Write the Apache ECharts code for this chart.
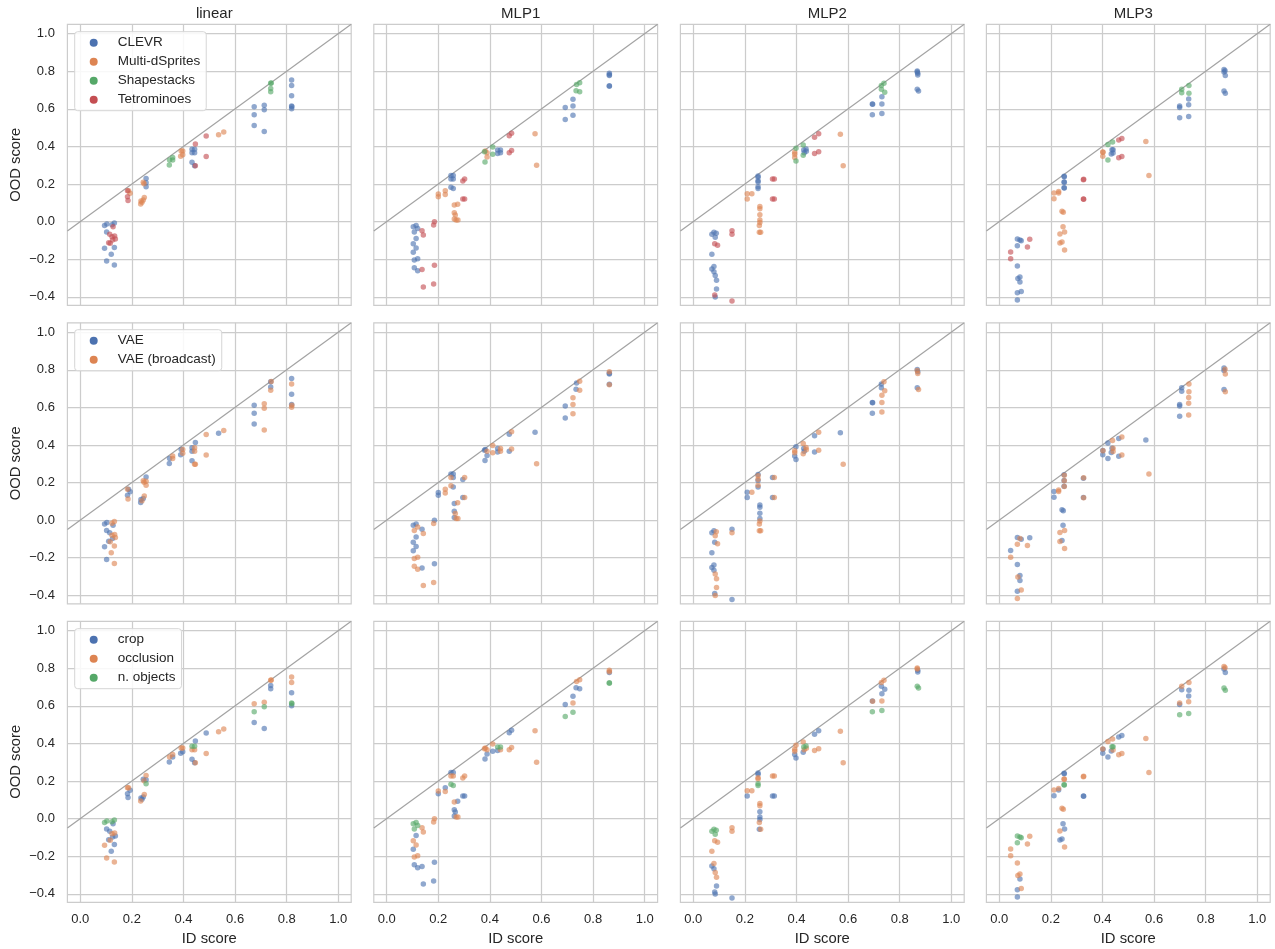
<!DOCTYPE html>
<html><head><meta charset="utf-8">
<script src="https://cdn.jsdelivr.net/npm/echarts@6/dist/echarts.min.js"></script>
<style>html,body{margin:0;padding:0;background:#fff}#chart{width:1275px;height:949px}</style>
</head><body><div id="chart"></div>
<script>
const columnTitles = ['linear', 'MLP1', 'MLP2', 'MLP3'];
const datasets = ['CLEVR', 'Multi-dSprites', 'Shapestacks', 'Tetrominoes'];
const models = ['VAE', 'VAE (broadcast)'];
const shifts = ['crop', 'occlusion', 'n. objects'];
const xTicks = [0, 0.2, 0.4, 0.6, 0.8, 1.0];
const yTicks = [-0.4, -0.2, 0, 0.2, 0.4, 0.6, 0.8, 1.0];
const diagonal = [-0.05, 1.05];

// [ID score, OOD score, dataset index, model index, shift index]
const linearPts = [
[0.094,-0.020,0,0,2],[0.103,-0.012,0,0,2],[0.123,-0.016,0,1,2],[0.132,-0.007,0,1,2],
[0.102,-0.055,0,0,0],[0.094,-0.142,0,0,1],[0.132,-0.138,0,1,0],[0.120,-0.174,0,1,0],
[0.102,-0.209,0,0,1],[0.132,-0.230,0,1,1],
[0.127,-0.027,3,0,0],[0.114,-0.067,3,0,0],[0.123,-0.080,3,1,1],[0.133,-0.076,3,1,1],
[0.136,-0.092,3,1,0],[0.125,-0.098,3,0,0],[0.116,-0.115,3,1,1],[0.110,-0.112,3,0,0],
[0.183,0.165,3,1,1],[0.187,0.165,1,0,1],[0.193,0.151,1,0,0],[0.183,0.133,3,0,0],[0.185,0.112,3,1,0],
[0.255,0.230,0,0,1],[0.255,0.207,0,1,0],[0.255,0.186,0,1,2],
[0.244,0.209,1,1,0],[0.247,0.202,1,1,1],[0.248,0.129,1,1,1],[0.244,0.115,1,0,0],[0.239,0.103,1,1,0],[0.234,0.094,1,0,1],[0.235,0.110,1,0,0],
[0.346,0.328,2,0,1],[0.358,0.342,2,1,1],[0.358,0.328,2,1,0],[0.345,0.301,2,0,0],
[0.391,0.376,1,0,1],[0.397,0.376,1,1,1],[0.389,0.348,1,0,0],[0.397,0.356,1,1,0],
[0.433,0.385,0,0,2],[0.443,0.385,0,1,2],[0.433,0.367,0,0,1],[0.443,0.367,0,1,1],[0.433,0.316,0,0,0],[0.443,0.298,0,1,0],
[0.446,0.413,3,0,0],[0.446,0.298,3,1,1],[0.488,0.456,3,1,0],[0.488,0.346,3,1,1],
[0.536,0.463,1,0,1],[0.556,0.477,1,1,1],
[0.674,0.612,0,0,1],[0.674,0.569,0,0,2],[0.674,0.511,0,0,0],
[0.713,0.619,0,1,1],[0.713,0.596,0,1,2],[0.713,0.480,0,1,0],
[0.738,0.736,2,0,1],[0.740,0.738,2,1,1],[0.738,0.709,2,0,0],[0.738,0.691,2,1,0],
[0.819,0.754,0,0,1],[0.819,0.725,0,1,1],[0.819,0.670,0,0,0],[0.819,0.615,0,0,2],[0.820,0.612,0,1,2],[0.819,0.601,0,1,0]
];
const mlp1Pts = [
[0.103,-0.027,0,0,2],[0.114,-0.021,0,0,2],[0.120,-0.037,0,1,2],[0.107,-0.055,0,1,2],
[0.114,-0.090,0,0,0],[0.103,-0.117,0,0,1],[0.114,-0.140,0,0,1],[0.103,-0.163,0,0,0],
[0.107,-0.204,0,1,1],[0.120,-0.197,0,1,1],[0.107,-0.245,0,1,0],[0.120,-0.261,0,1,0],
[0.137,-0.048,3,0,1],[0.142,-0.071,3,1,1],[0.185,0.000,3,0,1],[0.182,-0.018,3,1,1],
[0.185,-0.232,3,0,0],[0.182,-0.332,3,1,0],[0.137,-0.254,3,0,0],[0.142,-0.348,3,1,0],
[0.295,0.216,3,0,1],[0.302,0.227,3,1,1],[0.295,0.121,3,0,0],[0.302,0.121,3,1,0],
[0.475,0.457,3,0,0],[0.484,0.470,3,1,0],[0.475,0.367,3,0,1],[0.484,0.378,3,1,1],
[0.200,0.147,1,0,1],[0.200,0.133,1,0,0],[0.227,0.165,1,1,0],[0.227,0.144,1,1,1],
[0.262,0.089,1,0,1],[0.275,0.092,1,1,0],[0.262,0.048,1,0,0],[0.266,0.035,1,1,0],[0.262,0.014,1,0,0],[0.269,0.009,1,1,1],[0.276,0.009,1,1,1],
[0.382,0.376,1,0,1],[0.389,0.367,1,1,1],[0.389,0.344,1,0,0],
[0.575,0.468,1,0,1],[0.581,0.300,1,1,1],
[0.379,0.372,2,0,1],[0.411,0.397,2,1,1],[0.411,0.358,2,1,0],[0.381,0.317,2,0,0],
[0.430,0.381,0,0,2],[0.441,0.381,0,1,2],[0.430,0.363,0,0,0],[0.441,0.367,0,1,1],
[0.249,0.245,0,0,0],[0.258,0.245,0,0,0],[0.249,0.227,0,1,1],[0.258,0.227,0,0,1],[0.249,0.183,0,1,2],[0.258,0.176,0,0,2],
[0.692,0.608,0,0,0],[0.692,0.543,0,0,2],[0.722,0.651,0,1,0],[0.722,0.615,0,1,1],[0.722,0.566,0,1,2],
[0.863,0.789,0,1,1],[0.863,0.782,0,0,1],[0.863,0.777,0,0,0],[0.863,0.723,0,0,2],[0.863,0.720,0,1,2],
[0.736,0.730,2,0,1],[0.748,0.739,2,1,1],[0.734,0.697,2,0,0],[0.748,0.691,2,1,0]
];
const mlp2Pts = [
[0.072,-0.067,0,0,2],[0.080,-0.057,0,0,2],[0.089,-0.062,0,1,2],[0.085,-0.083,0,1,2],
[0.072,-0.174,0,0,1],[0.072,-0.252,0,0,0],[0.080,-0.239,0,0,1],[0.080,-0.266,0,0,0],
[0.085,-0.287,0,1,1],[0.090,-0.312,0,1,1],[0.090,-0.358,0,1,0],[0.085,-0.401,0,1,0],
[0.083,-0.390,3,0,0],[0.083,-0.117,3,0,1],[0.094,-0.126,3,1,1],[0.150,-0.048,3,0,1],[0.150,-0.067,3,1,1],[0.150,-0.422,3,0,0],
[0.307,0.227,3,0,1],[0.314,0.227,3,1,1],[0.307,0.121,3,0,0],[0.314,0.121,3,1,0],
[0.470,0.449,3,0,0],[0.486,0.468,3,1,0],[0.470,0.363,3,0,1],[0.486,0.372,3,1,1],
[0.251,0.243,0,0,0],[0.251,0.236,0,1,0],[0.251,0.218,0,1,1],[0.251,0.211,0,0,1],[0.251,0.186,0,1,2],[0.251,0.176,0,0,2],
[0.209,0.149,1,0,1],[0.227,0.149,1,1,1],[0.209,0.121,1,0,0],
[0.258,0.080,1,0,1],[0.258,0.069,1,0,1],[0.258,0.037,1,0,0],[0.258,0.009,1,0,0],[0.258,-0.005,1,1,0],[0.256,-0.021,1,1,1],[0.256,-0.057,1,1,0],[0.261,-0.057,1,1,1],
[0.393,0.369,1,1,1],[0.393,0.358,1,1,1],[0.393,0.342,1,0,0],
[0.570,0.465,1,0,1],[0.581,0.298,1,1,1],
[0.398,0.390,2,0,1],[0.426,0.408,2,1,1],[0.426,0.353,2,1,0],[0.398,0.323,2,0,0],
[0.428,0.381,0,0,2],[0.437,0.387,0,1,2],[0.430,0.367,0,0,1],[0.438,0.374,0,1,1],
[0.694,0.626,0,0,0],[0.695,0.624,0,0,1],[0.694,0.569,0,0,2],[0.731,0.665,0,1,0],[0.731,0.626,0,1,1],[0.731,0.576,0,1,2],
[0.729,0.725,2,0,1],[0.739,0.736,2,1,1],[0.729,0.704,2,0,0],[0.742,0.688,2,1,0],
[0.868,0.801,0,0,1],[0.868,0.796,0,1,1],[0.870,0.789,0,0,0],[0.870,0.780,0,1,0],[0.868,0.704,0,0,2],[0.873,0.695,0,1,2]
];
const mlp3Pts = [
[0.070,-0.092,0,0,2],[0.080,-0.098,0,1,2],[0.085,-0.101,0,0,2],[0.070,-0.128,0,1,2],
[0.070,-0.236,0,0,1],[0.072,-0.303,0,1,1],[0.080,-0.294,0,0,1],[0.080,-0.321,0,0,0],[0.070,-0.378,0,0,0],[0.085,-0.372,0,1,1],[0.070,-0.417,0,1,0],
[0.044,-0.161,3,0,1],[0.044,-0.197,3,1,1],[0.118,-0.094,3,0,1],[0.109,-0.135,3,1,1],
[0.326,0.223,3,0,1],[0.327,0.225,3,1,1],[0.326,0.121,3,0,0],[0.327,0.119,3,1,0],
[0.463,0.434,3,0,0],[0.475,0.443,3,1,0],[0.463,0.340,3,0,1],[0.475,0.346,3,1,1],
[0.251,0.241,0,0,0],[0.252,0.239,0,1,0],[0.251,0.211,0,0,1],[0.252,0.209,0,1,1],[0.251,0.181,0,0,2],[0.252,0.179,0,1,2],
[0.212,0.152,1,0,1],[0.230,0.160,1,1,1],[0.230,0.152,1,1,0],[0.212,0.122,1,0,0],
[0.243,0.055,1,0,1],[0.248,0.050,1,0,1],
[0.247,-0.027,1,0,0],[0.253,-0.055,1,1,0],[0.235,-0.066,1,1,1],[0.235,-0.113,1,1,0],[0.243,-0.108,1,0,0],[0.253,-0.151,1,1,1],
[0.401,0.371,1,0,1],[0.402,0.369,1,1,0],[0.401,0.348,1,0,0],
[0.568,0.427,1,0,1],[0.580,0.245,1,1,1],
[0.421,0.410,2,0,1],[0.439,0.424,2,1,1],[0.421,0.328,2,0,0],
[0.437,0.383,0,0,2],[0.441,0.383,0,1,2],[0.434,0.360,0,0,0],[0.441,0.365,0,1,1],
[0.699,0.615,0,0,1],[0.699,0.608,0,0,0],[0.699,0.553,0,0,2],[0.734,0.652,0,1,0],[0.734,0.622,0,1,1],[0.734,0.560,0,1,2],
[0.707,0.704,2,0,1],[0.707,0.686,2,0,0],[0.735,0.725,2,1,1],[0.735,0.683,2,1,0],
[0.871,0.810,0,0,1],[0.875,0.803,0,1,1],[0.871,0.796,0,0,0],[0.876,0.778,0,1,0],[0.871,0.695,0,0,2],[0.876,0.683,0,1,2]
];

const colPts = [linearPts, mlp1Pts, mlp2Pts, mlp3Pts];
const rowGroups = [{names: datasets, field: 2}, {names: models, field: 3}, {names: shifts, field: 4}];
const palette = ['#4C72B0', '#DD8452', '#55A868', '#C44E52'];
const FONT = '"Liberation Sans", Arial, sans-serif';
const TXT = '#262626';
const GRIDC = '#cccccc';
const fmt = v => (v < 0 ? '\u2212' : '') + Math.abs(v).toFixed(1);

const gridLeft = [67.4, 373.8, 680.4, 986.4];
const gridTop = [24.3, 322.8, 621.3];
const gridW = 283.8, gridH = 281;

const grids = [], xAxes = [], yAxes = [], series = [], titles = [], legends = [];

for (let r = 0; r < 3; r++) {
  for (let c = 0; c < 4; c++) {
    const gi = r * 4 + c;
    grids.push({left: gridLeft[c], top: gridTop[r], width: gridW, height: gridH,
      show: true, borderColor: GRIDC, borderWidth: 1.2, backgroundColor: '#fff'});
    xAxes.push({type: 'value', gridIndex: gi, min: -0.05, max: 1.05,
      axisLine: {show: false}, axisTick: {show: false, customValues: xTicks},
      axisLabel: {show: r === 2, customValues: xTicks, formatter: fmt,
        fontSize: 13, color: TXT, fontFamily: FONT, margin: 11},
      splitLine: {show: true, lineStyle: {color: GRIDC, width: 1.25}},
      name: r === 2 ? 'ID score' : '', nameLocation: 'middle', nameGap: 29,
      nameTextStyle: {fontSize: 14.8, color: TXT, fontFamily: FONT}});
    yAxes.push({type: 'value', gridIndex: gi, min: -0.445, max: 1.05,
      axisLine: {show: false}, axisTick: {show: false, customValues: yTicks},
      axisLabel: {show: c === 0, customValues: yTicks, formatter: fmt,
        fontSize: 13, color: TXT, fontFamily: FONT, margin: 12.5},
      splitLine: {show: true, lineStyle: {color: GRIDC, width: 1.25}},
      name: c === 0 ? 'OOD score' : '', nameLocation: 'middle', nameGap: 44, nameRotate: 90,
      nameTextStyle: {fontSize: 14.8, color: TXT, fontFamily: FONT}});
    series.push({type: 'line', name: 'diag', xAxisIndex: gi, yAxisIndex: gi,
      data: [[diagonal[0], diagonal[0]], [diagonal[1], diagonal[1]]],
      symbol: 'none', silent: true, lineStyle: {color: '#a3a3a3', width: 1.2}, z: 2});
    const g = rowGroups[r];
    g.names.forEach((nm, k) => {
      series.push({type: 'scatter', name: nm, xAxisIndex: gi, yAxisIndex: gi,
        data: colPts[c].filter(p => p[g.field] === k).map(p => [p[0], p[1]]),
        symbolSize: 5.5, itemStyle: {color: palette[k], opacity: 0.62}, z: 3});
    });
  }
}

columnTitles.forEach((t, c) => {
  titles.push({text: t, left: gridLeft[c] + gridW / 2, textAlign: 'center', top: 1.5,
    textStyle: {fontSize: 15, fontWeight: 'normal', color: TXT, fontFamily: FONT}});
});

const legendTops = [31.7, 329.7, 628.7];
rowGroups.forEach((g, r) => {
  legends.push({data: g.names, orient: 'vertical', left: 74.7, top: legendTops[r],
    icon: 'circle', itemWidth: 8, itemHeight: 8, itemGap: 5,
    itemStyle: {opacity: 1},
    backgroundColor: 'rgba(255,255,255,0.85)', borderColor: '#d6d6d6', borderWidth: 1, borderRadius: 3,
    padding: [4, 6, 4, 15], selectedMode: false,
    textStyle: {fontSize: 13.5, color: TXT, fontFamily: FONT, lineHeight: 14, padding: [0, 0, 0, 15]}});
});

const chart = echarts.init(document.getElementById('chart'), null, {renderer: 'canvas'});
chart.setOption({
  animation: false,
  backgroundColor: '#fff',
  title: titles,
  legend: legends,
  grid: grids,
  xAxis: xAxes,
  yAxis: yAxes,
  series: series
});
</script>
</body></html>
